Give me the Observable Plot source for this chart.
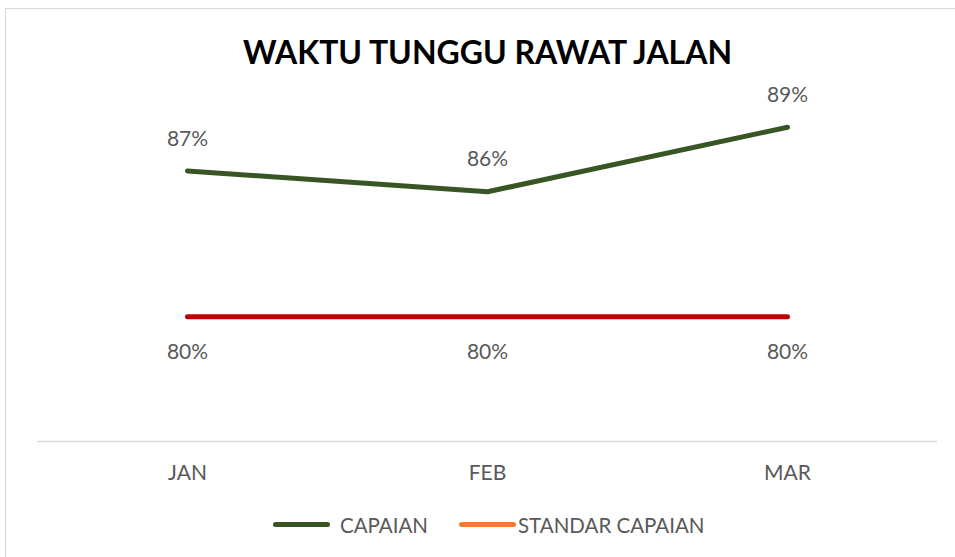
<!DOCTYPE html>
<html>
<head>
<meta charset="utf-8">
<script src="https://cdn.jsdelivr.net/npm/d3@7"></script>
<script src="https://cdn.jsdelivr.net/npm/@observablehq/plot@0.6"></script>
<style>
  html, body { margin: 0; padding: 0; background: #fff; }
  #wrap { position: relative; width: 955px; height: 557px; overflow: hidden; font-family: Lato, "Open Sans", sans-serif; }
  #border { position: absolute; left: 5px; top: 8px; width: 1000px; height: 600px; border: 1px solid #d9d9d9; box-sizing: border-box; }
  #title { position: absolute; left: 0; width: 975px; top: 30px; text-align: center; font-weight: 700; font-size: 32px; color: #000; line-height: 44px; }
  #chart { position: absolute; left: 0; top: 0; }
  .leg { position: absolute; top: 512px; font-size: 20.5px; color: #595959; line-height: 26px; white-space: nowrap; }
  .sw { position: absolute; height: 5px; border-radius: 3px; top: 522px; }
</style>
</head>
<body>
<div id="wrap">
  <div id="border"></div>
  <div id="chart"></div>
  <div id="title"></div>
  <div id="legend"></div>
</div>
<script>
const title = "WAKTU TUNGGU RAWAT JALAN";
const months = ["JAN", "FEB", "MAR"];
const capaian = [0.87, 0.86, 0.891];
const standar = [0.80, 0.80, 0.80];
const seriesNames = ["CAPAIAN", "STANDAR CAPAIAN"];
const lineColors = ["#375623", "#C00000"];
const legendColors = ["#375623", "#ED7D31"];

document.getElementById("title").textContent = title;

const capData = months.map((m, i) => ({month: m, value: capaian[i]}));
const stdData = months.map((m, i) => ({month: m, value: standar[i]}));
const fmt = d3.format(".0%");

const plot = Plot.plot({
  width: 955,
  height: 557,
  marginLeft: 37,
  marginRight: 18,
  marginTop: 108,
  marginBottom: 116,
  style: {background: "transparent", fontFamily: "Lato, 'Open Sans', sans-serif"},
  x: {type: "point", domain: months, padding: 0.5},
  y: {domain: [0.74, 0.90], axis: null},
  marks: [
    Plot.ruleY([0.74], {stroke: "#d9d9d9", strokeWidth: 1.5}),
    Plot.axisX({tickSize: 0, tickPadding: 24, fontSize: 21, color: "#595959", label: null, fill: "#595959"}),
    Plot.line(stdData, {x: "month", y: "value", stroke: lineColors[1], strokeWidth: 5, strokeLinecap: "round"}),
    Plot.line(capData, {x: "month", y: "value", stroke: lineColors[0], strokeWidth: 5, strokeLinecap: "round", strokeLinejoin: "round"}),
    Plot.text(capData, {x: "month", y: "value", text: d => fmt(d.value), dy: -32, fontSize: 21, fill: "#595959"}),
    Plot.text(stdData, {x: "month", y: "value", text: d => fmt(d.value), dy: 36, fontSize: 21, fill: "#595959"})
  ]
});
document.getElementById("chart").appendChild(plot);

const leg = document.getElementById("legend");
const swX = [273, 459];
const txX = [340, 518];
seriesNames.forEach((name, i) => {
  const sw = document.createElement("div");
  sw.className = "sw";
  sw.style.left = swX[i] + "px";
  sw.style.width = "57px";
  sw.style.background = legendColors[i];
  leg.appendChild(sw);
  const t = document.createElement("div");
  t.className = "leg";
  t.style.left = txX[i] + "px";
  t.textContent = name;
  leg.appendChild(t);
});
</script>
</body>
</html>
